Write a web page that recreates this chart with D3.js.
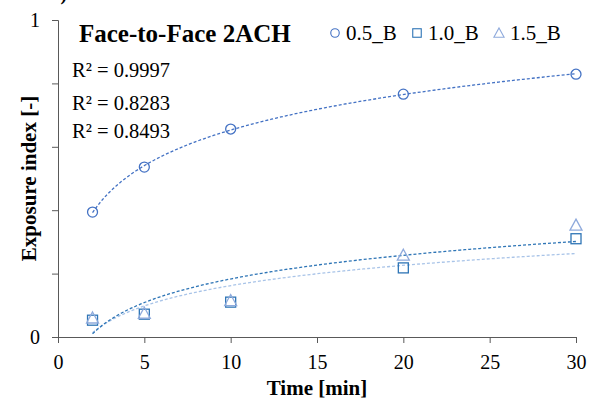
<!DOCTYPE html>
<html>
<head>
<meta charset="utf-8">
<script src="https://cdn.jsdelivr.net/npm/d3@7"></script>
<style>
  body { margin: 0; background: #fff; }
  svg text { font-family: "Liberation Serif", "Times New Roman", serif; }
</style>
</head>
<body>
<svg id="chart" width="592" height="400"></svg>
<script>
// data
var times = [2, 5, 10, 20, 30];
var b05 = [0.394, 0.536, 0.656, 0.766, 0.829];
var b10 = [0.053, 0.072, 0.110, 0.218, 0.310];
var b15 = [0.060, 0.075, 0.115, 0.258, 0.353];
var seriesNames = ["0.5_B", "1.0_B", "1.5_B"];
var r2Labels = ["R² = 0.9997", "R² = 0.8283", "R² = 0.8493"];
var xTicks = [0, 5, 10, 15, 20, 25, 30];
var yTicks = [0, 0.2, 0.4, 0.6, 0.8, 1];
var yLabels = [0, 1];

// plot box
var margin = { top: 20, bottom: 63, left: 58, right: 16 };
var width = 592 - margin.left - margin.right;
var height = 400 - margin.top - margin.bottom;

var svg = d3.select("#chart");
var g = svg.append("g")
    .attr("transform", "translate(" + margin.left + "," + margin.top + ")");

var x = d3.scaleLinear().domain([0, 30]).range([0, width]);
var y = d3.scaleLinear().domain([0, 1]).range([height, 0]);

// logarithmic least squares fit, like an Excel trendline
function logFit(xs, ys) {
  var lx = xs.map(Math.log);
  var mx = d3.mean(lx), my = d3.mean(ys);
  var sxx = d3.sum(lx, function(v) { return (v - mx) * (v - mx); });
  var sxy = d3.sum(lx, function(v, i) { return (v - mx) * (ys[i] - my); });
  var a = sxy / sxx;
  return { a: a, b: my - a * mx };
}

var series = [
  { name: seriesNames[0], values: b05, color: "#4472c4", shape: "circle", trend: "#4472c4" },
  { name: seriesNames[1], values: b10, color: "#2e75b6", shape: "square", trend: "#a9c4e8" },
  { name: seriesNames[2], values: b15, color: "#8faadc", shape: "triangle", trend: "#2e75b6" }
];

function styleAxis(s) {
  s.attr("font-family", "Liberation Serif");
  s.select(".domain").attr("stroke", "#595959");
  s.selectAll(".tick line").attr("stroke", "#595959");
  s.selectAll("text").attr("font-size", 20).attr("fill", "#000")
    .style("font-family", "Liberation Serif");
}

// axes
g.append("g")
    .attr("transform", "translate(0," + height + ")")
    .call(d3.axisBottom(x).tickValues(xTicks).tickSize(6).tickPadding(12))
    .call(styleAxis);

g.append("g")
    .call(d3.axisLeft(y).tickValues(yTicks).tickSize(6).tickPadding(12)
      .tickFormat(function(d) { return yLabels.indexOf(d) >= 0 ? d : ""; }))
    .call(styleAxis);

// trendlines
var line = d3.line()
    .x(function(d) { return x(d[0]); })
    .y(function(d) { return y(d[1]); });

series.forEach(function(s) {
  var fit = logFit(times, s.values);
  var pts = d3.range(0, 101).map(function(i) {
    var t = 2 + (30 - 2) * i / 100;
    return [t, fit.a * Math.log(t) + fit.b];
  });
  g.append("path")
      .datum(pts)
      .attr("fill", "none")
      .attr("stroke", s.trend)
      .attr("stroke-width", 1.3)
      .attr("stroke-dasharray", "3,2")
      .attr("d", line);
});

// markers
function drawMarker(sel, shape, color) {
  if (shape === "circle") {
    sel.append("circle").attr("r", 5);
  } else if (shape === "square") {
    sel.append("rect").attr("x", -5).attr("y", -5).attr("width", 10).attr("height", 10);
  } else {
    sel.append("path").attr("d", "M0,-6L6,5L-6,5Z");
  }
  sel.selectAll("*").attr("fill", "none").attr("stroke", color).attr("stroke-width", 1.3);
}

series.forEach(function(s) {
  g.selectAll(null)
      .data(s.values)
    .enter().append("g")
      .attr("transform", function(d, i) { return "translate(" + x(times[i]) + "," + y(d) + ")"; })
      .each(function() { drawMarker(d3.select(this), s.shape, s.color); });
});

// axis titles
svg.append("text")
    .attr("x", margin.left + width / 2)
    .attr("y", 395)
    .attr("text-anchor", "middle")
    .attr("font-size", 21)
    .attr("font-weight", "bold")
    .text("Time [min]");

svg.append("text")
    .attr("transform", "translate(36," + (margin.top + height / 2) + ") rotate(-90)")
    .attr("text-anchor", "middle")
    .attr("font-size", 21)
    .attr("font-weight", "bold")
    .text("Exposure index [-]");

// chart title
svg.append("text")
    .attr("x", 79)
    .attr("y", 42)
    .attr("font-size", 25)
    .attr("font-weight", "bold")
    .text("Face-to-Face 2ACH");

// R² labels
svg.selectAll(".r2")
    .data(r2Labels)
  .enter().append("text")
    .attr("class", "r2")
    .attr("x", 72)
    .attr("y", function(d, i) { return [77, 110, 138][i]; })
    .attr("font-size", 20.5)
    .text(function(d) { return d; });

// legend
var legendX = [335, 417, 499];
series.forEach(function(s, i) {
  var lg = svg.append("g").attr("transform", "translate(" + legendX[i] + ",33)");
  var m = lg.append("g").attr("transform", "scale(0.85)");
  drawMarker(m, s.shape, s.color);
  lg.append("text")
      .attr("x", 11)
      .attr("y", 7)
      .attr("font-size", 21)
      .text(s.name);
});

// caption remnant clipped at the top edge
svg.append("text")
    .attr("x", 2)
    .attr("y", 0)
    .attr("font-size", 20)
    .attr("font-weight", "bold")
    .text("ure 2 a)");
</script>
</body>
</html>
